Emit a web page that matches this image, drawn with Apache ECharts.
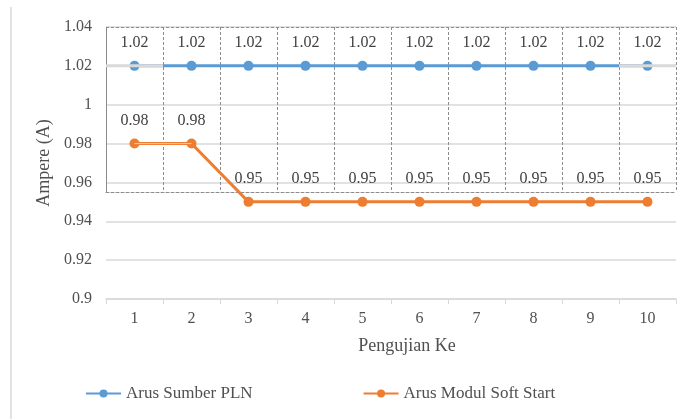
<!DOCTYPE html>
<html>
<head>
<meta charset="utf-8">
<script src="https://cdn.jsdelivr.net/npm/echarts@6/dist/echarts.min.js"></script>
<style>html,body{margin:0;padding:0;background:#fff;}#c{width:686px;height:419px;}</style>
</head>
<body>
<div id="c"></div>
<script>
var categories = ['1','2','3','4','5','6','7','8','9','10'];
var arusPLN = [1.02,1.02,1.02,1.02,1.02,1.02,1.02,1.02,1.02,1.02];
var arusSoftStart = [0.98,0.98,0.95,0.95,0.95,0.95,0.95,0.95,0.95,0.95];
var yTicks = [0.9,0.92,0.94,0.96,0.98,1,1.02,1.04];

var FONT = 'Liberation Serif';
var TXT = '#505050';
var n = categories.length;
// grey overlay on first and last category of the PLN series
function seg(i){ return [[i+0.5, arusPLN[i]],[i+1.5, arusPLN[i]]]; }
// light stripe over the first orange segment
var softStripe = arusSoftStart.map(function(v,i){ return i < 2 ? v : '-'; });

var chart = echarts.init(document.getElementById('c'));
chart.setOption({
  animation:false,
  backgroundColor:'#fff',
  textStyle:{fontFamily:FONT},
  graphic:[{type:'line',shape:{x1:11,y1:7,x2:11,y2:419},style:{stroke:'#d9d9d9',lineWidth:1.5},silent:true}],
  grid:[
    {left:106,right:10,top:27,bottom:120},
    {left:106,right:10,top:27,bottom:227}
  ],
  legend:{
    left:85, top:385, padding:0, itemWidth:35, itemHeight:10, itemGap:110,
    textStyle:{fontFamily:FONT,fontSize:17,color:TXT},
    data:['Arus Sumber PLN','Arus Modul Soft Start']
  },
  xAxis:[
    {type:'category',gridIndex:0,data:categories,boundaryGap:true,
     name:'Pengujian Ke',nameLocation:'middle',nameGap:38,
     nameTextStyle:{fontFamily:FONT,fontSize:18,color:TXT,padding:[0,0,0,32]},
     axisLine:{lineStyle:{color:'#d9d9d9',width:1.5}},
     axisTick:{show:true,length:5,lineStyle:{color:'#d9d9d9'}},
     axisLabel:{fontFamily:FONT,fontSize:16,color:TXT,margin:12},
     splitLine:{show:false}},
    {type:'value',gridIndex:0,min:0.5,max:n+0.5,show:false},
    {type:'category',gridIndex:1,data:categories,boundaryGap:true,
     axisLine:{show:true,lineStyle:{color:'#8c8c8c',type:[3,2]}},
     axisTick:{show:false},axisLabel:{show:false},
     splitLine:{show:true,interval:0,lineStyle:{color:'#8c8c8c',type:[3,2]}}}
  ],
  yAxis:[
    {type:'value',gridIndex:0,min:0.9,max:1.04,interval:0.02,
     name:'Ampere (A)',nameLocation:'middle',nameGap:52,
     nameTextStyle:{fontFamily:FONT,fontSize:18,color:TXT},
     axisLine:{show:false},axisTick:{show:false},
     axisLabel:{fontFamily:FONT,fontSize:16,color:TXT,margin:14,
       formatter:function(v){return String(parseFloat(v.toFixed(2)));}},
     splitLine:{lineStyle:{color:'#d9d9d9',width:1.5}}},
    {type:'value',gridIndex:1,min:0,max:1,interval:1,
     axisLine:{show:true,lineStyle:{color:'#8c8c8c',type:[3,2]}},
     axisTick:{show:false},axisLabel:{show:false},
     splitLine:{show:true,lineStyle:{color:'#8c8c8c',type:[3,2]}}}
  ],
  series:[
    {name:'Arus Sumber PLN',type:'line',xAxisIndex:0,yAxisIndex:0,data:arusPLN,
     symbol:'circle',symbolSize:10,color:'#5B9BD5',
     lineStyle:{width:3,color:'#5B9BD5'},itemStyle:{color:'#5B9BD5'},
     label:{show:true,position:'top',distance:10,fontFamily:FONT,fontSize:16,color:'#404040'},z:3},
    {name:'Arus Modul Soft Start',type:'line',xAxisIndex:0,yAxisIndex:0,data:arusSoftStart,
     symbol:'circle',symbolSize:10,color:'#ED7D31',
     lineStyle:{width:3,color:'#ED7D31'},itemStyle:{color:'#ED7D31'},
     label:{show:true,position:'top',distance:10,fontFamily:FONT,fontSize:16,color:'#404040'},z:3},
    {type:'line',xAxisIndex:0,yAxisIndex:0,data:softStripe,symbol:'none',silent:true,
     lineStyle:{width:1,color:'#f6c9a8'},z:4},
    {type:'line',xAxisIndex:1,yAxisIndex:0,data:seg(0),symbol:'none',silent:true,
     lineStyle:{width:3,color:'#d9d9d9'},z:5},
    {type:'line',xAxisIndex:1,yAxisIndex:0,data:seg(n-1),symbol:'none',silent:true,
     lineStyle:{width:3,color:'#d9d9d9'},z:5}
  ]
});
</script>
</body>
</html>
